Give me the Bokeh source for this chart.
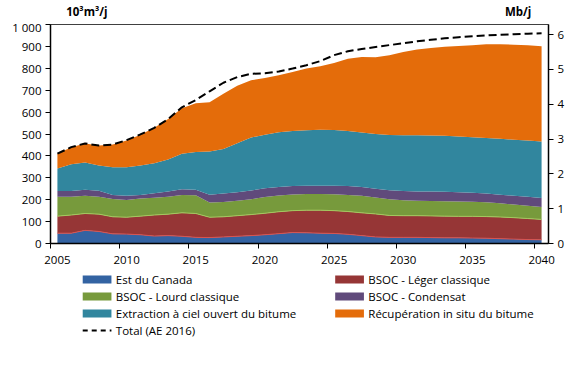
from bokeh.plotting import figure
from bokeh.models import ColumnDataSource, Range1d, LinearAxis, FixedTicker
from bokeh.core.properties import value
from bokeh.layouts import column
from bokeh.embed import file_html
from bokeh.resources import INLINE
import numpy as np

# ---------------- data (10^3 m3/j) ----------------
years = list(range(2005, 2041))

est_canada = [47, 47, 60, 55, 44, 43, 40, 34, 36, 33, 28, 27, 30, 33, 36, 40, 45, 50,
              49, 47, 46, 42, 36, 30, 28, 28, 28, 27, 26, 26, 25, 24, 22, 20, 18, 17]
bsoc_leger = [78, 83, 77, 79, 78, 77, 85, 96, 98, 107, 109, 93, 92, 94, 96, 98, 100, 100,
              103, 105, 104, 104, 104, 105, 100, 99, 99, 99, 99, 98, 99, 99, 99, 98, 96, 93]
bsoc_lourd = [89, 84, 81, 80, 81, 79, 80, 79, 80, 82, 83, 67, 68, 68, 70, 74, 74, 74,
              74, 74, 75, 76, 78, 75, 74, 71, 68, 68, 68, 68, 67, 65, 63, 60, 58, 57]
bsoc_condensat = [26, 26, 27, 27, 19, 19, 17, 20, 24, 26, 26, 36, 38, 39, 40, 40, 39, 39,
                  38, 38, 39, 40, 40, 40, 41, 42, 43, 43, 43, 42, 41, 40, 39, 40, 41, 41]
extraction = [103, 122, 125, 115, 126, 130, 134, 138, 145, 162, 172, 197, 204, 224, 242, 245, 250, 251,
              253, 255, 254, 252, 249, 250, 253, 254, 256, 256, 256, 255, 253, 254, 255, 256, 257, 258]
in_situ = [67, 78, 87, 91, 104, 122, 141, 161, 185, 208, 222, 225, 252, 262, 261, 259, 260, 269,
           282, 290, 306, 330, 345, 350, 364, 381, 392, 400, 406, 413, 420, 428, 432, 434, 435, 435]
total_ae2016 = [410, 440, 457, 447, 452, 472, 498, 528, 568, 622, 655, 695, 734, 760, 775, 777, 785, 799,
                814, 833, 860, 878, 888, 897, 906, 914, 923, 930, 937, 942, 946, 950, 953, 956, 958, 960]

series_names = ["Est du Canada", "BSOC - Léger classique", "BSOC - Lourd classique",
                "BSOC - Condensat", "Extraction à ciel ouvert du bitume",
                "Récupération in situ du bitume"]
total_name = "Total (AE 2016)"
unit_left = "10³m³/j"
unit_right = "Mb/j"

y_ticks = list(range(0, 1001, 100))
right_ticks = [0, 1, 2, 3, 4, 5, 6]
x_label_years = [2005, 2010, 2015, 2020, 2025, 2030, 2035, 2040]
KM3_PER_MB = 158.987  # 1 Mb/j = 158.987 10^3 m3/j

colors = ["#3363A2", "#963636", "#779A3C", "#604A7B", "#31869E", "#E46C0A"]
edge_colors = ["#D9534F", "#A3C85E"]
FONT = "Open Sans"
FS = "11.5px"
W = 572


def strip(height, ymax):
    f = figure(width=W, height=height, output_backend="svg", toolbar_location=None,
               x_range=Range1d(0, W), y_range=Range1d(ymax, 0),
               x_axis_type=None, y_axis_type=None, min_border=0)
    f.outline_line_color = None
    f.grid.visible = False
    return f


# ---------------- top strip: unit labels ----------------
top = strip(19, 19)
top.text(x=[18, 522], y=[11, 11], text=[unit_left, unit_right],
         text_font=value(FONT), text_font_size=value(FS),
         text_font_style=value("bold"), text_baseline=value("middle"),
         text_align=value("left"), text_color="black")

# ---------------- main chart ----------------
src = ColumnDataSource(dict(year=years, s0=est_canada, s1=bsoc_leger, s2=bsoc_lourd,
                            s3=bsoc_condensat, s4=extraction, s5=in_situ))

p = figure(width=W, height=251, frame_width=498, frame_height=219,
           output_backend="svg", toolbar_location=None,
           x_range=Range1d(2004.5, 2040.5), y_range=Range1d(0, 1000),
           min_border_left=50, min_border_right=24, min_border_top=5,
           min_border_bottom=27)
p.extra_y_ranges = {"mb": Range1d(0, 1000 / KM3_PER_MB)}
p.xgrid.visible = False
p.ygrid.visible = False
p.outline_line_color = "#404040"
p.outline_line_width = 1
p.background_fill_color = "white"

areas = p.varea_stack(stackers=["s0", "s1", "s2", "s3", "s4", "s5"], x="year",
                      color=colors, source=src)

cum = np.cumsum(np.array([est_canada, bsoc_leger]), axis=0)
p.line(years, cum[0], line_color=edge_colors[0], line_width=1)
p.line(years, cum[1], line_color=edge_colors[1], line_width=1)

p.line(years, total_ae2016, line_color="black", line_width=2, line_dash="8 4")

# x axis: labels at category centres, tick marks at category boundaries
xa = p.xaxis[0]
xa.ticker = FixedTicker(ticks=x_label_years,
                        minor_ticks=[y - 0.5 for y in x_label_years])
xa.major_tick_line_color = None
xa.major_tick_out = 0
xa.major_tick_in = 0
xa.minor_tick_line_color = "black"
xa.minor_tick_out = 5
xa.minor_tick_in = 0
xa.minor_tick_line_width = 1
xa.major_label_standoff = 7
xa.major_label_text_font = FONT
xa.major_label_text_font_size = FS
xa.major_label_text_color = "black"
xa.axis_line_width = 1.5
xa.axis_line_color = "black"

ya = p.yaxis[0]
ya.ticker = FixedTicker(ticks=y_ticks)
ya.major_label_overrides = {1000: "1 000"}
ya.major_tick_out = 5
ya.major_tick_in = 0
ya.minor_tick_line_color = None
ya.major_label_standoff = 4
ya.major_label_text_font = FONT
ya.major_label_text_font_size = FS
ya.major_label_text_color = "black"
ya.axis_line_width = 1.5
ya.axis_line_color = "black"

yr = LinearAxis(y_range_name="mb", ticker=FixedTicker(ticks=right_ticks))
yr.major_tick_out = 5
yr.major_tick_in = 0
yr.minor_tick_line_color = None
yr.major_label_standoff = 4
yr.major_label_text_font = FONT
yr.major_label_text_font_size = FS
yr.major_label_text_color = "black"
yr.axis_line_width = 1.5
yr.axis_line_color = "black"
p.add_layout(yr, "right")

# ---------------- bottom strip: legend ----------------
leg = strip(75, 75)
row_y = [9, 26, 43, 60]
col_x = [37, 327]
sw_w, sw_h, gap = 33, 8, 5

# (column, row, series index)
slots = [(0, 0, 0), (1, 0, 1), (0, 1, 2), (1, 1, 3), (0, 2, 4), (1, 2, 5)]
leg.quad(left=[col_x[c] for c, r, i in slots],
         right=[col_x[c] + sw_w for c, r, i in slots],
         top=[row_y[r] - sw_h / 2 for c, r, i in slots],
         bottom=[row_y[r] + sw_h / 2 for c, r, i in slots],
         fill_color=[colors[i] for c, r, i in slots], line_color=None)
leg.line([col_x[0], col_x[0] + sw_w], [row_y[3], row_y[3]], line_color="black",
         line_width=2, line_dash="5 4")
leg.text(x=[col_x[c] + sw_w + gap for c, r, i in slots] + [col_x[0] + sw_w + gap],
         y=[row_y[r] for c, r, i in slots] + [row_y[3]],
         text=[series_names[i] for c, r, i in slots] + [total_name],
         text_font=value(FONT), text_font_size=value(FS),
         text_baseline=value("middle"), text_align=value("left"), text_color="black")

open("out.html", "w").write(file_html(column(top, p, leg), INLINE))
